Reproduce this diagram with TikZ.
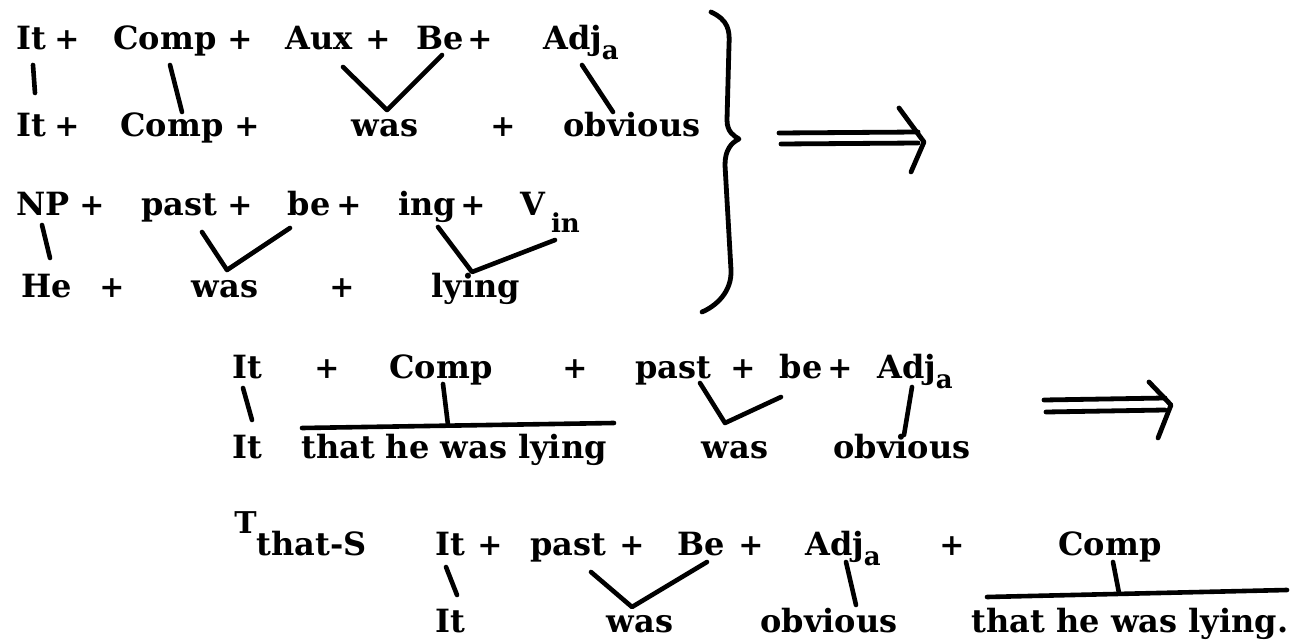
\documentclass[tikz,border=0pt]{standalone}
\usepackage{fontspec}
\setmainfont{DejaVu Serif}
\usepackage{tikz}

\newcommand\wordfont{\bfseries\fontsize{16}{19}\selectfont}
\newcommand\plusfont{\bfseries\fontsize{15}{18}\selectfont}
\newcommand\lowsub[2][5pt]{\raisebox{-#1}{\fontsize{13}{13}\selectfont #2}}

\tikzset{
  word/.style={anchor=base, inner sep=0pt, font=\wordfont},
  plus/.style={anchor=base, inner sep=0pt, font=\plusfont},
  link/.style={line width=2.3pt, line cap=round, line join=round},
  hand/.style={line width=2.4pt, line cap=round, line join=round}
}

\begin{document}
\begin{tikzpicture}[x=0.5pt, y=-0.5pt]
\useasboundingbox (0,0) rectangle (1302,642);

% Kernel 1: It + Comp + Aux + Be + Adj_a
\node[word] (r1it) at (31,50) {It};
\node[plus] (r1p1) at (67,50) {+};
\node[word] (r1comp) at (165,50) {Comp};
\node[plus] (r1p2) at (240,50) {+};
\node[word] (r1aux) at (319,50) {Aux};
\node[plus] (r1p3) at (378,50) {+};
\node[word] (r1be) at (440,50) {Be};
\node[plus] (r1p4) at (480,50) {+};
\node[word] (r1adj) at (581,50) {Adj\lowsub{a}};

% its string
\node[word] (r2it) at (31,137) {It};
\node[plus] (r2p1) at (67,137) {+};
\node[word] (r2comp) at (172,137) {Comp};
\node[plus] (r2p2) at (247,137) {+};
\node[word] (r2was) at (385,137) {was};
\node[plus] (r2p3) at (503,137) {+};
\node[word] (r2obv) at (632,137) {obvious};

% Kernel 2: NP + past + be + ing + V_in
\node[word] (r3np) at (43,215) {NP};
\node[plus] (r3p1) at (92,215) {+};
\node[word] (r3past) at (179,215) {past};
\node[plus] (r3p2) at (240,215) {+};
\node[word] (r3be) at (309,215) {be};
\node[plus] (r3p3) at (349,215) {+};
\node[word] (r3ing) at (427,215) {ing};
\node[plus] (r3p4) at (473,215) {+};
\node[word] (r3v) at (550,215) {V\hspace{3pt}\lowsub[9pt]{in}};

% its string
\node[word] (r4he) at (47,297) {He};
\node[plus] (r4p1) at (112,297) {+};
\node[word] (r4was) at (225,297) {was};
\node[plus] (r4p2) at (342,297) {+};
\node[word] (r4lying) at (476,297) {lying};

% links of the two kernels
\draw[link] ([shift={(2,15)}]r1it.base) -- ([shift={(4,-44)}]r2it.base);
\draw[link] ([shift={(5,15)}]r1comp.base) -- ([shift={(10,-25)}]r2comp.base);
\draw[link] ([shift={(24,17)}]r1aux.base) -- ([shift={(2,-27)}]r2was.base) -- ([shift={(2,5)}]r1be.base);
\draw[link] ([shift={(1,15)}]r1adj.base) -- ([shift={(-19,-25)}]r2obv.base);
\draw[link] ([shift={(-1,10)}]r3np.base) -- ([shift={(3,-39)}]r4he.base);
\draw[link] ([shift={(23,17)}]r3past.base) -- ([shift={(2,-27)}]r4was.base) -- ([shift={(-19,13)}]r3be.base);
\draw[link] ([shift={(11,12)}]r3ing.base) -- ([shift={(-4,-25)}]r4lying.base) -- ([shift={(5,25)}]r3v.base);

% brace and first arrow
\draw[hand] (711,12) .. controls (728,20) and (730,30) .. (729,45) -- (727,120)
  .. controls (727,132) and (734,136) .. (739,139)
  .. controls (731,143) and (725,150) .. (725,165) -- (731,270)
  .. controls (732,292) and (716,306) .. (702,312);
\draw[hand] (779,133) -- (918,132);
\draw[hand] (781,144) -- (918,143);
\draw[hand] (899,108) -- (924,142) -- (911,172);

% Step: It + Comp + past + be + Adj_a
\node[word] (r5it) at (247,378) {It};
\node[plus] (r5p1) at (327,378) {+};
\node[word] (r5comp) at (441,378) {Comp};
\node[plus] (r5p2) at (575,378) {+};
\node[word] (r5past) at (673,378) {past};
\node[plus] (r5p3) at (743,378) {+};
\node[word] (r5be) at (801,378) {be};
\node[plus] (r5p4) at (840,378) {+};
\node[word] (r5adj) at (915,378) {Adj\lowsub{a}};

\node[word] (r6it) at (247,458) {It};
\node[word] (r6that) at (454,458) {that he was lying};
\node[word] (r6was) at (735,458) {was};
\node[word] (r6obv) at (902,458) {obvious};

\draw[link] ([shift={(-4,10)}]r5it.base) -- ([shift={(5,-38)}]r6it.base);
\draw[link] ([shift={(2,6)}]r5comp.base) -- ([shift={(-6,-33)}]r6that.base);
\draw[link] ([shift={(-152,-30)}]r6that.base) -- ([shift={(160,-35)}]r6that.base);
\draw[link] ([shift={(27,5)}]r5past.base) -- ([shift={(-10,-35)}]r6was.base) -- ([shift={(-20,19)}]r5be.base);
\draw[link] ([shift={(-3,9)}]r5adj.base) -- ([shift={(2,-23)}]r6obv.base);

% second arrow
\draw[hand] (1044,400) -- (1165,398);
\draw[hand] (1046,412) -- (1165,410);
\draw[hand] (1149,382) -- (1171,405) -- (1158,438);

% T_that-S: It + past + Be + Adj_a + Comp
\node[word, anchor=base west] (r7t) at (234,555) {\raisebox{11pt}{\fontsize{15}{15}\selectfont T}that-S};
\node[word] (r7it) at (450,555) {It};
\node[plus] (r7p1) at (490,555) {+};
\node[word] (r7past) at (568,555) {past};
\node[plus] (r7p2) at (632,555) {+};
\node[word] (r7be) at (701,555) {Be};
\node[plus] (r7p3) at (751,555) {+};
\node[word] (r7adj) at (843,555) {Adj\lowsub{a}};
\node[plus] (r7p4) at (952,555) {+};
\node[word] (r7comp) at (1110,555) {Comp};

\node[word] (r8it) at (450,632) {It};
\node[word] (r8was) at (640,632) {was};
\node[word] (r8obv) at (829,632) {obvious};
\node[word] (r8that) at (1130,632) {that he was lying.};

\draw[link] ([shift={(-4,12)}]r7it.base) -- ([shift={(7,-37)}]r8it.base);
\draw[link] ([shift={(23,17)}]r7past.base) -- ([shift={(-8,-25)}]r8was.base) -- ([shift={(6,7)}]r7be.base);
\draw[link] ([shift={(3,7)}]r7adj.base) -- ([shift={(27,-27)}]r8obv.base);
\draw[link] ([shift={(3,7)}]r7comp.base) -- ([shift={(-11,-39)}]r8that.base);
\draw[link] ([shift={(-143,-35)}]r8that.base) -- ([shift={(157,-42)}]r8that.base);
\end{tikzpicture}
\end{document}
